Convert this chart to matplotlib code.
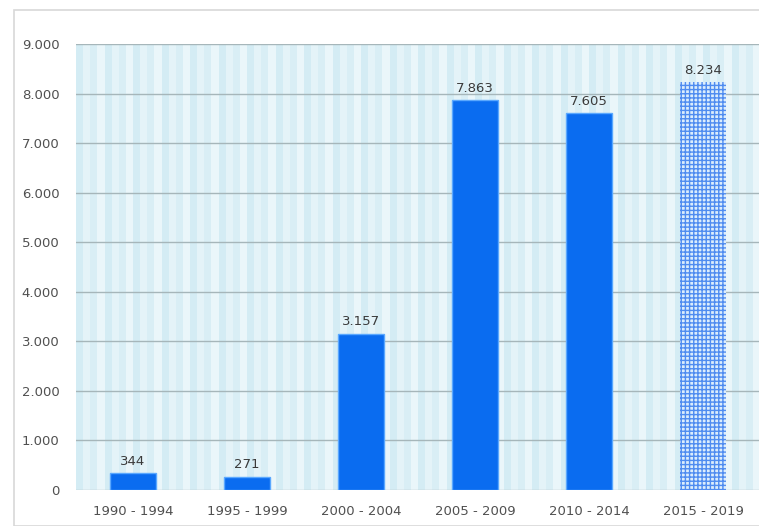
import matplotlib.pyplot as plt
import numpy as np

# data
periods = ['1990 - 1994', '1995 - 1999', '2000 - 2004', '2005 - 2009', '2010 - 2014', '2015 - 2019']
counts = [344, 271, 3157, 7863, 7605, 8234]
labels = ['344', '271', '3.157', '7.863', '7.605', '8.234']
ticks = [0, 1000, 2000, 3000, 4000, 5000, 6000, 7000, 8000, 9000]
tick_labels = ['0', '1.000', '2.000', '3.000', '4.000', '5.000', '6.000', '7.000', '8.000', '9.000']

plt.rcParams['hatch.linewidth'] = 1.0
fig = plt.figure(figsize=(7.59, 5.26), dpi=100)
# outer frame
fig.patches.append(plt.Rectangle((14/759, 0), 1, 1 - 10/526, transform=fig.transFigure,
                                 fill=False, edgecolor='#d8d8d8', lw=1.2))
ax = fig.add_axes([76/759, 36/526, 684/759, 446/526])

x = np.arange(len(periods))
ax.set_xlim(-0.5, len(periods) - 0.5)
ax.set_ylim(0, 9000)

# striped background
edges = np.linspace(-0.5, len(periods) - 0.5, 97)
shades = ['#d4ecf4', '#e4f3f8', '#d9eef5', '#eaf6fa']
for i in range(len(edges) - 1):
    ax.axvspan(edges[i], edges[i + 1], color=shades[i % 4], lw=0, zorder=0)

for t in ticks[1:]:
    ax.axhline(t, color='#a6b6ba', lw=1, zorder=1)

w = 0.41
ax.bar(x[:-1], counts[:-1], width=w, color='#0a6cf0', edgecolor='#5aa8ff', lw=1, zorder=3)
ax.bar(x[-1], counts[-1], width=w, color='#dcedfc', edgecolor='#4f8cf0', hatch='++++',
       lw=0, zorder=3)

for xi, v, s in zip(x, counts, labels):
    ax.text(xi, v + 110, s, ha='center', va='bottom', fontsize=9.5, color='#3a3a3a', zorder=4)

ax.set_xticks(x)
ax.set_xticklabels(periods, fontsize=9.5, color='#505050')
ax.set_yticks(ticks)
ax.set_yticklabels(tick_labels, fontsize=9.5, color='#505050')
ax.tick_params(axis='both', length=0)
ax.tick_params(axis='y', pad=12)
ax.tick_params(axis='x', pad=11)
for s in ax.spines.values():
    s.set_visible(False)
ax.axhline(0, color='#b8c4c8', lw=1, zorder=2)

fig.savefig('out.png', dpi=100)
